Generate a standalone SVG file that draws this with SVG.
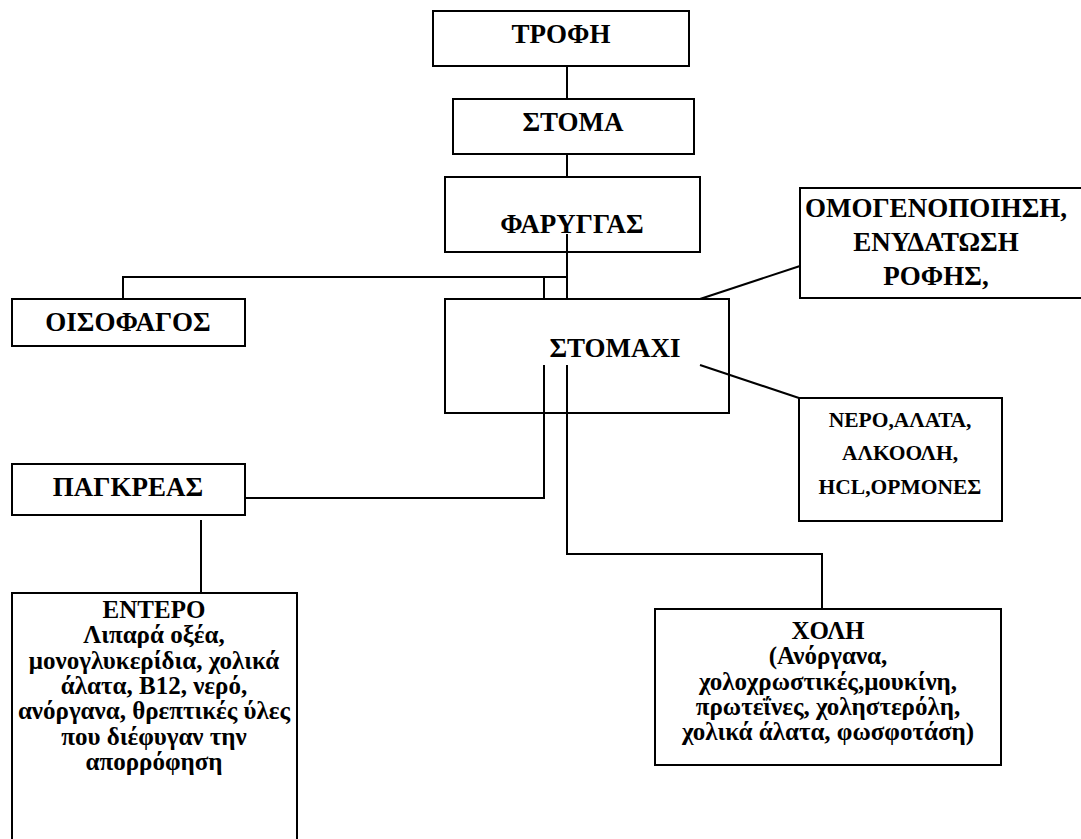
<svg xmlns="http://www.w3.org/2000/svg" width="1081" height="839" viewBox="0 0 1081 839">
<style>
rect.box{fill:#fff;stroke:#000;stroke-width:2}
.c line,.c polyline{fill:none;stroke:#000;stroke-width:2}
text{font-family:"Liberation Serif","Times New Roman",serif;font-weight:bold;fill:#000;text-anchor:middle}
.big{font-size:27px}
.mid{font-size:27px}
.sm{font-size:21.5px}
.bt{font-size:25px}
</style>
<rect width="1081" height="839" fill="#fff"/>
<g class="c" id="connectors">
<line x1="567" y1="66" x2="567" y2="99"/>
<line x1="567" y1="154" x2="567" y2="177"/>
<line x1="567" y1="234" x2="567" y2="299"/>
<polyline points="567,277 123,277 123,299"/>
<line x1="544" y1="277" x2="544" y2="299"/>
<line x1="700" y1="299" x2="800" y2="266"/>
<line x1="700" y1="365" x2="799" y2="398"/>
<polyline points="544,365 544,498 245,498"/>
<polyline points="567,365 567,554 822,554 822,609"/>
<line x1="201" y1="520" x2="201" y2="593"/>
</g>
<g id="trofi"><rect class="box" x="433" y="11" width="256" height="55"/><text class="big" x="561" y="43">ΤΡΟΦΗ</text></g>
<g id="stoma"><rect class="box" x="453" y="99" width="241" height="55"/><text class="big" x="573" y="131">ΣΤΟΜΑ</text></g>
<g id="farygas"><rect class="box" x="445" y="177" width="255" height="75" style="fill:none"/><text class="big" x="572" y="233">ΦΑΡΥΓΓΑΣ</text></g>
<g id="omogen"><rect class="box" x="800" y="188" width="300" height="110"/><text class="mid" x="936" y="217">ΟΜΟΓΕΝΟΠΟΙΗΣΗ,</text><text class="mid" x="936" y="251">ΕΝΥΔΑΤΩΣΗ</text><text class="mid" x="936" y="285">ΡΟΦΗΣ,</text></g>
<g id="oisofagos"><rect class="box" x="12" y="299" width="233" height="47"/><text class="big" x="128" y="331">ΟΙΣΟΦΑΓΟΣ</text></g>
<g id="stomaxi"><rect class="box" x="445" y="299" width="284" height="114" style="fill:none"/><text class="big" x="615" y="357">ΣΤΟΜΑΧΙ</text></g>
<g id="nero"><rect class="box" x="799" y="398" width="203" height="123"/><text class="sm" x="900" y="427">ΝΕΡΟ,ΑΛΑΤΑ,</text><text class="sm" x="900" y="460">ΑΛΚΟΟΛΗ,</text><text class="sm" x="900" y="494">HCL,ΟΡΜΟΝΕΣ</text></g>
<g id="pagkreas"><rect class="box" x="12" y="464" width="233" height="51"/><text class="big" x="128" y="496">ΠΑΓΚΡΕΑΣ</text></g>
<g id="entero"><rect class="box" x="12" y="593" width="285" height="260"/>
<text class="bt" x="154" y="618">ΕΝΤΕΡΟ</text>
<text class="bt" x="154" y="643">Λιπαρά οξέα,</text>
<text class="bt" x="154" y="669">μονογλυκερίδια, χολικά</text>
<text class="bt" x="154" y="694">άλατα, Β12, νερό,</text>
<text class="bt" x="154" y="719">ανόργανα, θρεπτικές ύλες</text>
<text class="bt" x="154" y="745">που διέφυγαν την</text>
<text class="bt" x="154" y="770">απορρόφηση</text></g>
<g id="choli"><rect class="box" x="655" y="609" width="346" height="156"/>
<text class="bt" x="828" y="639">ΧΟΛΗ</text>
<text class="bt" x="828" y="664">(Ανόργανα,</text>
<text class="bt" x="828" y="690">χολοχρωστικές,μουκίνη,</text>
<text class="bt" x="828" y="715">πρωτεΐνες, χοληστερόλη,</text>
<text class="bt" x="828" y="740">χολικά άλατα, φωσφοτάση)</text></g>
</svg>
